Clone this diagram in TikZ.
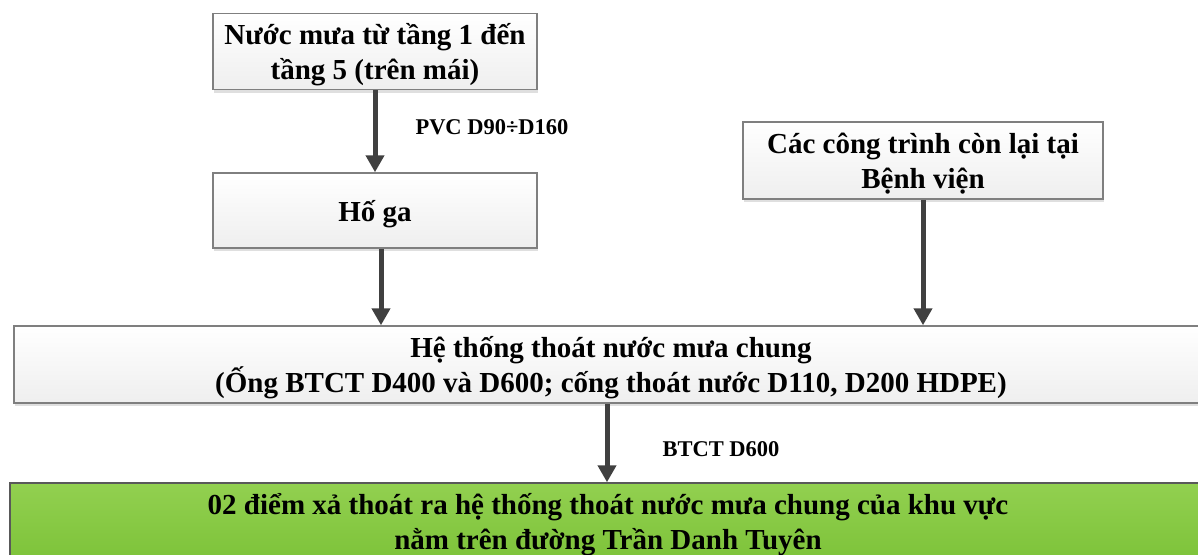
\documentclass[tikz,border=0pt]{standalone}
\usepackage{fontspec}
\setmainfont{Liberation Serif}
\usepackage{tikz}
\usetikzlibrary{arrows.meta,shadows}
\definecolor{boxline}{RGB}{127,127,127}
\definecolor{flowgray}{RGB}{64,64,64}
\definecolor{greentop}{RGB}{146,208,80}
\definecolor{greenbot}{RGB}{124,194,56}
\tikzset{%
  tipA/.tip={Triangle[width=18pt,length=17pt]},
  box/.style={draw=boxline, line width=1.5pt, top color=white, bottom color=gray!13,
    align=center, inner sep=0pt, text depth=0pt, font=\bfseries\fontsize{29}{35}\selectfont,
    drop shadow={shadow xshift=1pt, shadow yshift=-3pt, opacity=0.25, fill=gray}},
  xabox/.style={box, text depth=6pt, draw=gray!70!black, top color=greentop, bottom color=greenbot},
  flow/.style={flowgray, line width=5pt, -tipA},
  lbl/.style={inner sep=0pt, text=black, font=\bfseries\fontsize{22.5}{27}\selectfont}
}

\begin{document}
\begin{tikzpicture}[x=1pt,y=-1pt]
\useasboundingbox (0,0) rectangle (1198,554);
\node[box, minimum width=324pt, minimum height=76pt] (mua) at (375,51.5) {Nước mưa từ tầng 1 đến\\tầng 5 (trên mái)};
\node[box, minimum width=324pt, minimum height=75pt] (hoga) at (375,210.5) {Hố ga};
\node[box, minimum width=360pt, minimum height=77pt] (benhvien) at (923,160.5) {Các công trình còn lại tại\\Bệnh viện};
\node[box, minimum width=1194pt, minimum height=77pt] (chung) at (611,364.5) {Hệ thống thoát nước mưa chung\\(Ống BTCT D400 và D600; cống thoát nước D110, D200 HDPE)};
\node[xabox, minimum width=1196pt, minimum height=82pt] (diemxa) at (608,524) {02 điểm xả thoát ra hệ thống thoát nước mưa chung của khu vực\\nằm trên đường Trần Danh Tuyên};
% connectors
\draw[flow] (mua.south) -- (hoga.north) node[lbl, pos=0.45, anchor=west, xshift=38pt] (pvc) {PVC D90÷D160};
\draw[flow] ([xshift=6pt]hoga.south) -- ([xshift=6pt]hoga.south |- chung.north);
\draw[flow] (benhvien.south) -- (benhvien.south |- chung.north);
\draw[flow] ([xshift=-4pt]chung.south) -- ([xshift=-4pt]chung.south |- diemxa.north) node[lbl, pos=0.58, anchor=west, xshift=53pt] (btct) {BTCT D600};
\end{tikzpicture}
\end{document}
